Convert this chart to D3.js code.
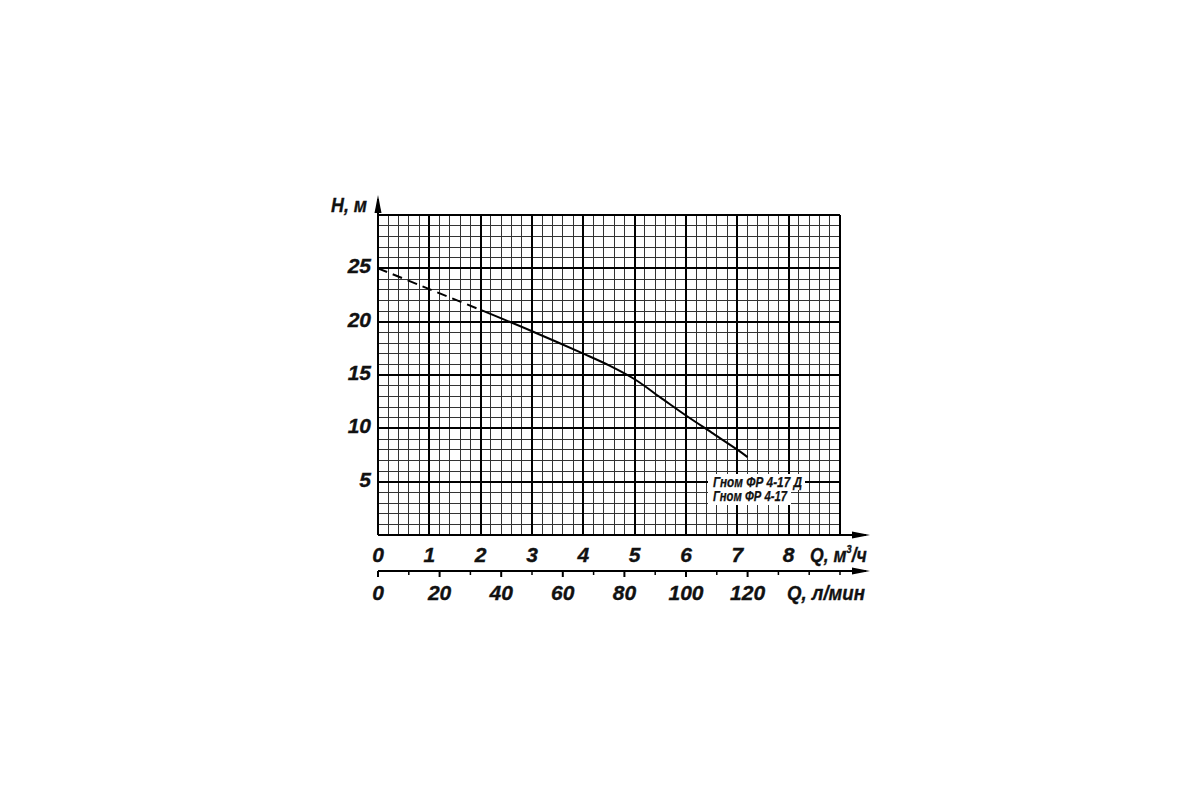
<!DOCTYPE html>
<html><head><meta charset="utf-8">
<script src="https://cdn.jsdelivr.net/npm/d3@7"></script>
<style>
html,body{margin:0;padding:0;background:#fff;}
text{font-family:"Liberation Sans",Arial,sans-serif;font-weight:bold;font-style:italic;fill:#111;stroke:#111;stroke-width:0.35px;}
</style></head>
<body>
<svg id="c" width="1200" height="800"></svg>
<script>
// ---- data ----
const flowM3h = [0, 1, 2, 3, 4, 4.5, 5, 5.5, 6, 6.5, 7, 7.2];
const headM   = [25, 23.05, 21.1, 19.1, 17.0, 15.9, 14.6, 12.9, 11.2, 9.6, 8.0, 7.3];
const dashedUntil = 2;            // m³/h, dashed part of the curve
const yTicks = [5, 10, 15, 20, 25];
const xTicksM3h = [0, 1, 2, 3, 4, 5, 6, 7, 8];
const xTicksLmin = [0, 20, 40, 60, 80, 100, 120];
const xMinorLmin = [10, 30, 50, 70, 90, 110, 130, 140, 150];
const legendLines = ["Гном ФР 4-17 Д", "Гном ФР 4-17"];
const yTitle = "H, м";
const xTitle1 = ["Q, м", "3", "/ч"];
const xTitle2 = "Q, л/мин";

// ---- scales ----
const svg = d3.select("#c");
const x = d3.scaleLinear().domain([0, 9]).range([378, 840]);
const xL = d3.scaleLinear().domain([0, 150]).range([378, 840]);
const y = d3.scaleLinear().domain([0, 30]).range([535, 215]);

// ---- grid ----
const g = svg.append("g").attr("shape-rendering", "crispEdges");
const minorV = d3.range(0, 46).map(i => i * 0.2);
const minorH = d3.range(0, 31);
g.selectAll(".mv").data(minorV).join("line")
  .attr("x1", d => x(d)).attr("x2", d => x(d)).attr("y1", y(0)).attr("y2", y(30))
  .attr("stroke", "#333").attr("stroke-width", 1);
g.selectAll(".mh").data(minorH).join("line")
  .attr("y1", d => y(d)).attr("y2", d => y(d)).attr("x1", x(0)).attr("x2", x(9))
  .attr("stroke", "#333").attr("stroke-width", 1);
g.selectAll(".Mv").data(d3.range(0, 10)).join("line")
  .attr("x1", d => x(d)).attr("x2", d => x(d)).attr("y1", y(0)).attr("y2", y(30))
  .attr("stroke", "#000").attr("stroke-width", 2);
g.selectAll(".Mh").data([0, 5, 10, 15, 20, 25, 30]).join("line")
  .attr("y1", d => y(d)).attr("y2", d => y(d)).attr("x1", x(0)).attr("x2", x(9))
  .attr("stroke", "#000").attr("stroke-width", 2);

// ---- legend (white boxes over grid) ----
svg.append("rect").attr("x", 708).attr("y", 474).attr("width", 97).attr("height", 16).attr("fill", "#fff");
svg.append("rect").attr("x", 708).attr("y", 490).attr("width", 83).attr("height", 15).attr("fill", "#fff");
svg.selectAll(".leg").data(legendLines).join("text")
  .attr("x", 713).attr("y", (d, i) => 487 + i * 14)
  .attr("font-size", 14)
  .attr("textLength", (d, i) => i === 0 ? 89 : 74)
  .attr("lengthAdjust", "spacingAndGlyphs")
  .style("stroke-width", "0.25px")
  .text(d => d);

// ---- curve ----
const pts = flowM3h.map((q, i) => [q, headM[i]]);
const line = d3.line().x(d => x(d[0])).y(d => y(d[1])).curve(d3.curveCatmullRom.alpha(0.5));
svg.append("path").datum(pts.filter(d => d[0] <= dashedUntil))
  .attr("d", line).attr("fill", "none").attr("stroke", "#000")
  .attr("stroke-width", 2).attr("stroke-dasharray", "10,6");
svg.append("path").datum(pts.filter(d => d[0] >= dashedUntil))
  .attr("d", line).attr("fill", "none").attr("stroke", "#000").attr("stroke-width", 2);

// ---- axes lines with arrows ----
function arrowRight(yy) {
  svg.append("line").attr("x1", x(0)).attr("x2", 866).attr("y1", yy).attr("y2", yy)
    .attr("stroke", "#000").attr("stroke-width", 2);
  svg.append("path").attr("d", `M870,${yy} L852,${yy - 3.5} L852,${yy + 3.5} Z`).attr("fill", "#000");
}
arrowRight(y(0));
arrowRight(571);
svg.append("line").attr("x1", x(0)).attr("x2", x(0)).attr("y1", y(30)).attr("y2", 199)
  .attr("stroke", "#000").attr("stroke-width", 2);
svg.append("path").attr("d", `M${x(0)},195 L${x(0) - 3.5},213 L${x(0) + 3.5},213 Z`).attr("fill", "#000");

// second axis ticks
svg.selectAll(".tl").data(xTicksLmin).join("line")
  .attr("x1", d => xL(d)).attr("x2", d => xL(d)).attr("y1", 571).attr("y2", 577)
  .attr("stroke", "#000").attr("stroke-width", 2);
svg.selectAll(".tm").data(xMinorLmin).join("line")
  .attr("x1", d => xL(d)).attr("x2", d => xL(d)).attr("y1", 570).attr("y2", 575)
  .attr("stroke", "#000").attr("stroke-width", 1.5);

// ---- tick labels ----
svg.selectAll(".yl").data(yTicks).join("text")
  .attr("x", 371).attr("y", d => y(d) + 5).attr("text-anchor", "end")
  .attr("font-size", 21).text(d => d);
svg.selectAll(".xl").data(xTicksM3h).join("text")
  .attr("x", d => x(d)).attr("y", 562).attr("text-anchor", "middle")
  .attr("font-size", 21).text(d => d);
svg.selectAll(".xll").data(xTicksLmin).join("text")
  .attr("x", d => xL(d)).attr("y", 600).attr("text-anchor", "middle")
  .attr("font-size", 21).text(d => d);

// ---- titles ----
svg.append("text").attr("x", 331).attr("y", 212).attr("font-size", 21)
  .attr("textLength", 36).attr("lengthAdjust", "spacingAndGlyphs").text(yTitle);
const t1 = svg.append("text").attr("transform", "translate(810,562) scale(0.84,1)").attr("font-size", 21);
t1.append("tspan").text(xTitle1[0]);
t1.append("tspan").attr("font-size", 11).attr("dy", -9).text(xTitle1[1]);
t1.append("tspan").attr("dy", 9).text(xTitle1[2]);
svg.append("text").attr("x", 787).attr("y", 600).attr("font-size", 21)
  .attr("textLength", 78).attr("lengthAdjust", "spacingAndGlyphs").text(xTitle2);
</script>
</body></html>
